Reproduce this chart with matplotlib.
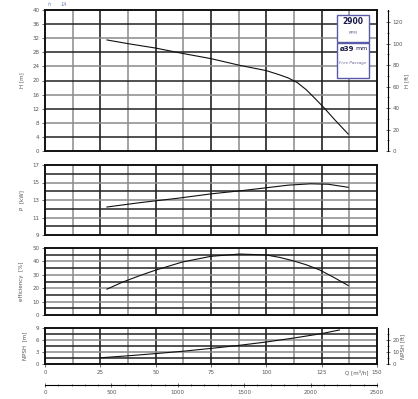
import matplotlib
matplotlib.use("Agg")
import matplotlib.pyplot as plt
from matplotlib.patches import Rectangle
import numpy as np

# curve data (Q in m3/h)
q_head = [28, 38, 50, 62, 75, 88, 100, 106, 110, 114, 118, 122, 126, 131, 137]
head_m = [31.5, 30.4, 29.2, 27.7, 26.2, 24.3, 22.8, 21.6, 20.7, 19.4, 17.4, 14.9, 12.3, 8.8, 4.8]

q_power = [28, 43, 60, 75, 90, 100, 110, 120, 128, 137]
power_kw = [12.2, 12.7, 13.2, 13.7, 14.1, 14.4, 14.7, 14.85, 14.8, 14.45]

q_eff = [28, 35, 43, 50, 62, 75, 88, 100, 106, 112, 118, 124, 130, 137]
eff_pct = [19.3, 24.5, 29.5, 33.5, 39.5, 43.8, 45.5, 44.8, 43, 40.5, 37.5, 33.7, 28.5, 22]

q_npsh = [25, 37.5, 50, 62.5, 75, 87.5, 100, 112.5, 125, 133]
npsh_m = [1.55, 2.05, 2.6, 3.2, 3.9, 4.65, 5.5, 6.5, 7.6, 8.5]

q_ticks = [0, 25, 50, 75, 100, 125, 150]
lmin_ticks = [0, 500, 1000, 1500, 2000, 2500]
rpm_text = "2900"
passage_text = "ø39"

M_TO_FT = 3.28084
W, H = 418, 399
LEFT, RIGHT = 45, 377
TICK_FS = 4
LAB_C = "#555555"


def frame(top, bottom):
    return [LEFT / W, (H - bottom) / H, (RIGHT - LEFT) / W, (bottom - top) / H]


def style(ax, ylim, ystep, label_step, ylabel):
    ax.set_xlim(0, 150)
    ax.set_ylim(*ylim)
    lo, hi = ylim
    for i, x in enumerate(np.arange(12.5, 150, 12.5)):
        ax.axvline(x, color="#111111" if i % 2 else "#8a8a8a", lw=1.1, zorder=1)
    ys = np.arange(lo + ystep, hi - ystep / 2, ystep)
    for i, y in enumerate(ys):
        ax.axhline(y, color="#8a8a8a" if i % 2 else "#222222", lw=1.1, zorder=1)
    ax.set_yticks(np.arange(lo, hi + 0.01, label_step))
    ax.set_xticks([])
    ax.tick_params(axis="y", labelsize=TICK_FS, length=2, width=0.6,
                   colors=LAB_C, pad=2)
    for s in ax.spines.values():
        s.set_linewidth(1.4)
        s.set_color("#111111")
    ax.set_ylabel(ylabel, fontsize=TICK_FS, color=LAB_C, labelpad=6)


def right_axis(ax, ymax_ft, major, minor, label):
    r = ax.twinx()
    r.set_ylim(0, ymax_ft)
    r.spines["right"].set_position(("outward", 8))
    for k in ("top", "left", "bottom"):
        r.spines[k].set_visible(False)
    r.spines["right"].set_linewidth(0.8)
    r.set_yticks(np.arange(0, ymax_ft, major))
    r.set_yticks(np.arange(0, ymax_ft, minor), minor=True)
    r.tick_params(axis="y", which="both", direction="inout", length=3, width=0.6,
                  labelsize=TICK_FS, colors=LAB_C, pad=1.5)
    r.tick_params(axis="y", which="minor", length=2)
    r.set_ylabel(label, fontsize=TICK_FS, color=LAB_C, labelpad=1)
    return r


fig = plt.figure(figsize=(W / 100, H / 100), dpi=100)

# head
ax1 = fig.add_axes(frame(10, 151))
style(ax1, (0, 40), 4, 4, "H [m]")
ax1.plot(q_head, head_m, color="#111111", lw=0.8, zorder=3)
right_axis(ax1, 40 * M_TO_FT, 20, 10, "H [ft]")

# rpm / free passage boxes
for (y0, y1) in [(15, 42), (43, 78)]:
    ax1.add_patch(Rectangle((337 / W, (H - y1) / H), 32 / W, (y1 - y0) / H,
                            transform=fig.transFigure, facecolor="white",
                            edgecolor="#5a5aa8", lw=1.0, zorder=5))
fig.text(353 / W, 1 - 21 / H, rpm_text, fontsize=5.5, fontweight="bold",
         color="#1a1a4a", ha="center", va="center", zorder=6)
fig.text(353 / W, 1 - 33 / H, "RPM", fontsize=3, color="#6a6a9a",
         ha="center", va="center", zorder=6)
fig.text(354.5 / W, 1 - 49 / H, passage_text, fontsize=5, fontweight="bold",
         color="#1a1a4a", ha="right", va="center", zorder=6)
fig.text(355.5 / W, 1 - 49 / H, "mm", fontsize=4.5,
         color="#1a1a4a", ha="left", va="center", zorder=6)
fig.text(353 / W, 1 - 63 / H, "Free Passage", fontsize=3, style="italic",
         color="#6a6a9a", ha="center", va="center", zorder=6)
fig.text(49 / W, 1 - 5 / H, "h", fontsize=3.5, style="italic", color="#6a7fb0",
         ha="center", va="center")
fig.text(64 / W, 1 - 5 / H, "1A", fontsize=3.5, style="italic", color="#6a7fb0",
         ha="center", va="center")

# power
ax2 = fig.add_axes(frame(165, 235))
style(ax2, (9, 17), 1, 2, "P  [kW]")
ax2.plot(q_power, power_kw, color="#111111", lw=0.8, zorder=3)

# efficiency
ax3 = fig.add_axes(frame(248, 315))
style(ax3, (0, 50), 5, 10, "efficiency  [%]")
ax3.plot(q_eff, eff_pct, color="#111111", lw=0.8, zorder=3)

# npsh
ax4 = fig.add_axes(frame(328, 364))
style(ax4, (0, 9), 1.5, 3, "NPSH  [m]")
ax4.plot(q_npsh, npsh_m, color="#111111", lw=0.8, zorder=3)
ax4.set_xticks(q_ticks)
ax4.tick_params(axis="x", labelsize=TICK_FS, length=2, width=0.6,
                colors=LAB_C, pad=2)
right_axis(ax4, 9 * M_TO_FT, 10, 5, "NPSH [ft]")
fig.text(357 / W, 1 - 372 / H, "Q [m³/h]", fontsize=TICK_FS, color=LAB_C,
         ha="center", va="center")

# second flow scale, l/min
ax5 = fig.add_axes([LEFT / W, 14 / H, (RIGHT - LEFT) / W, 0.0001])
ax5.set_xlim(0, 2500)
ax5.set_yticks([])
for k in ("top", "left", "right"):
    ax5.spines[k].set_visible(False)
ax5.spines["bottom"].set_linewidth(0.8)
ax5.set_xticks(lmin_ticks)
ax5.set_xticks(np.arange(0, 2501, 100), minor=True)
ax5.tick_params(axis="x", which="both", direction="inout", length=3, width=0.6,
                labelsize=TICK_FS, colors=LAB_C, pad=2)
ax5.tick_params(axis="x", which="minor", length=2)

fig.savefig("out.png", dpi=100)
